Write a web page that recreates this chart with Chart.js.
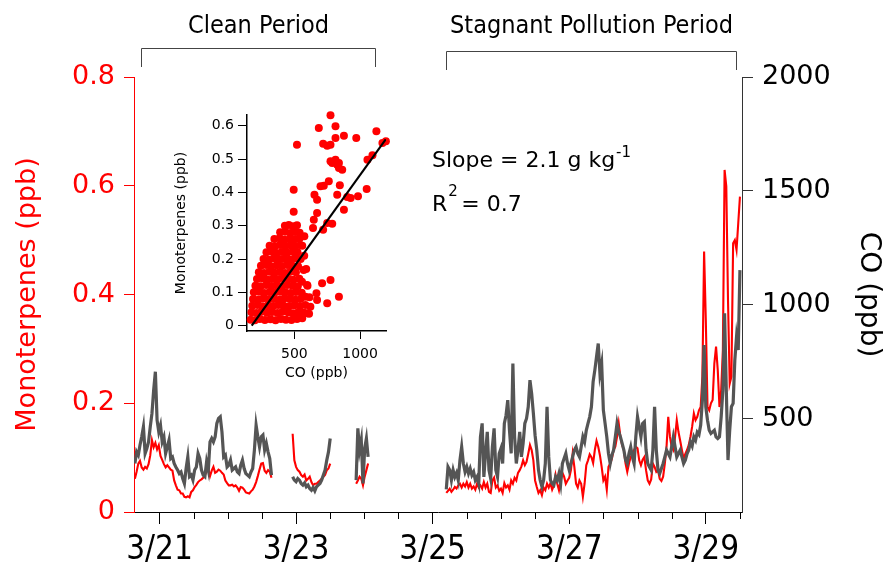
<!DOCTYPE html>
<html>
<head>
<meta charset="utf-8">
<script src="https://cdn.jsdelivr.net/npm/chart.js@4.4.1/dist/chart.umd.min.js"></script>
<style>
  html, body { margin: 0; padding: 0; background: #fff; }
  #wrap { position: relative; width: 886px; height: 563px; }
  #main { position: absolute; left: 0; top: 0; }
  #inset { position: absolute; left: 160px; top: 100px; }
</style>
</head>
<body>
<div id="wrap">
  <canvas id="main" width="886" height="563"></canvas>
  <canvas id="inset" width="235" height="285"></canvas>
</div>
<script>
// time axis in days of March; every segment is sampled each 0.025 day
const segStart = [20.64, 22.95, 23.88, 25.20];
const STEP = 0.025;

// CO (ppb), right axis
const coCleanA = [303,354,340,384,420,464,347,369,398,464,
  523,625,706,493,442,471,398,420,347,376,
  406,325,332,303,288,274,259,266,237,215,
  281,332,245,252,230,274,288,347,325,274,
  252,245,310,274,398,413,398,420,479,501,
  508,442,332,340,288,296,318,274,281,288,
  266,259,296,318,281,259,252,245,266,281,
  362,471,420,376,420,428,362,391,354,325,
  252];
const coCleanB = [245,230,223,237,230,215,208,218,201,208,193,186,198,183,201,208,215,230,252,274,318,354,413];
const coCleanC = [230,457,362,406,215,369,413,332];
const coStagnant = [189,288,274,230,274,244,262,230,318,376,
  303,266,288,259,281,252,266,230,244,215,
  420,479,244,347,442,274,237,376,457,274,
  244,347,369,303,479,515,581,449,347,742,
  420,303,362,442,332,391,479,501,552,669,
  610,523,427,362,274,230,201,230,303,552,
  332,230,215,208,244,230,259,215,303,325,
  347,303,274,303,332,362,376,347,332,376,
  420,398,449,479,508,552,662,713,772,830,
  698,742,537,479,420,347,303,340,362,420,
  479,442,420,391,362,318,303,347,376,332,
  303,420,508,464,420,479,486,362,303,288,
  274,362,552,362,274,259,281,303,332,362,
  347,332,376,420,376,332,347,362,332,303,
  318,345,362,398,380,420,405,440,430,472,
  581,823,552,493,449,435,442,449,420,413,
  420,508,625,962,625,318,449,552,567,757,
  859,801,1152];

// Monoterpenes (ppb), left axis
const monoCleanA = [0.061,0.074,0.089,0.094,0.082,0.078,0.083,0.080,0.088,0.104,
  0.132,0.119,0.127,0.115,0.123,0.103,0.096,0.088,0.082,0.086,
  0.082,0.078,0.076,0.058,0.049,0.041,0.040,0.034,0.034,0.028,
  0.027,0.029,0.027,0.037,0.040,0.046,0.050,0.055,0.058,0.060,
  0.063,0.068,0.074,0.080,0.066,0.076,0.083,0.072,0.074,0.078,
  0.076,0.072,0.069,0.058,0.053,0.049,0.049,0.050,0.047,0.049,
  0.045,0.039,0.046,0.045,0.041,0.036,0.035,0.034,0.038,0.041,
  0.047,0.055,0.066,0.078,0.089,0.090,0.076,0.072,0.077,0.074,
  0.063];
const monoCleanB = [0.144,0.095,0.083,0.077,0.074,0.068,0.065,0.069,0.058,0.061,0.065,0.055,0.049,0.052,0.052,0.055,0.058,0.061,0.065,0.068,0.077,0.080,0.089];
const monoCleanC = [0.052,0.058,0.065,0.061,0.049,0.065,0.077,0.089];
const monoStagnant = [0.035,0.039,0.043,0.037,0.041,0.046,0.043,0.049,0.052,0.045,
  0.052,0.047,0.055,0.045,0.052,0.043,0.047,0.041,0.052,0.045,
  0.049,0.043,0.055,0.045,0.052,0.037,0.035,0.058,0.063,0.045,
  0.049,0.039,0.043,0.035,0.053,0.045,0.049,0.041,0.058,0.052,
  0.063,0.058,0.072,0.077,0.084,0.095,0.086,0.092,0.107,0.123,
  0.114,0.095,0.058,0.046,0.035,0.040,0.031,0.045,0.040,0.052,
  0.045,0.053,0.041,0.049,0.068,0.052,0.040,0.058,0.072,0.065,
  0.052,0.058,0.063,0.077,0.107,0.083,0.052,0.045,0.058,0.052,
  0.028,0.052,0.086,0.095,0.106,0.101,0.090,0.114,0.131,0.120,
  0.104,0.083,0.058,0.065,0.041,0.083,0.089,0.098,0.114,0.120,
  0.138,0.163,0.138,0.123,0.114,0.089,0.074,0.089,0.101,0.107,
  0.114,0.120,0.117,0.095,0.086,0.096,0.101,0.077,0.058,0.052,
  0.060,0.089,0.083,0.074,0.077,0.061,0.057,0.065,0.089,0.120,
  0.175,0.138,0.120,0.114,0.138,0.169,0.147,0.131,0.114,0.098,
  0.107,0.114,0.123,0.138,0.157,0.181,0.169,0.175,0.187,0.193,
  0.249,0.479,0.353,0.193,0.187,0.200,0.206,0.273,0.304,0.261,
  0.193,0.224,0.298,0.629,0.599,0.390,0.236,0.249,0.494,0.500,
  0.482,0.531,0.580];

const xTickDays = [21,21.5,22,22.5,23,23.5,24,24.5,25,25.5,26,26.5,27,27.5,28,28.5,29,29.5];
const monoTicks = [0,0.2,0.4,0.6,0.8];
const coTicks = [500,1000,1500,2000];

const periods = [
  {label: 'Clean Period', start: 20.73, end: 24.155, top: 48},
  {label: 'Stagnant Pollution Period', start: 25.195, end: 29.44, top: 51}
];

// inset scatter: [CO, monoterpenes]
const insetPoints = [
  [168,0.018],[200,0.016],[238,0.02],[276,0.017],[318,0.019],[357,0.016],[398,0.02],[436,0.018],[478,0.017],[520,0.02],[560,0.022],
  [174,0.04],[212,0.038],[250,0.042],[292,0.039],[330,0.041],[372,0.038],[410,0.042],[452,0.04],[490,0.037],[532,0.041],[572,0.039],[612,0.036],
  [180,0.06],[220,0.062],[258,0.058],[300,0.061],[340,0.059],[378,0.062],[420,0.06],[462,0.058],[500,0.061],[542,0.059],[584,0.062],
  [186,0.08],[226,0.078],[266,0.082],[306,0.079],[344,0.081],[386,0.078],[426,0.082],[466,0.08],[506,0.078],[548,0.081],
  [192,0.1],[232,0.102],[270,0.098],[312,0.101],[350,0.099],[392,0.102],[430,0.1],[472,0.098],[512,0.101],[556,0.099],
  [204,0.12],[244,0.118],[286,0.122],[326,0.119],[364,0.121],[406,0.118],[446,0.122],[486,0.12],[526,0.118],
  [216,0.14],[256,0.142],[296,0.138],[336,0.141],[376,0.139],[416,0.142],[456,0.14],[494,0.138],[538,0.141],
  [230,0.16],[270,0.158],[310,0.162],[350,0.159],[390,0.161],[430,0.158],[470,0.162],[512,0.16],
  [246,0.18],[286,0.182],[326,0.178],[366,0.181],[406,0.179],[446,0.182],[486,0.18],[528,0.178],
  [266,0.2],[306,0.198],[346,0.202],[386,0.199],[426,0.201],[466,0.198],[504,0.202],[548,0.2],
  [288,0.22],[328,0.222],[366,0.218],[406,0.221],[446,0.219],[486,0.222],[524,0.22],
  [312,0.24],[352,0.238],[392,0.242],[432,0.239],[470,0.241],[508,0.238],[546,0.242],
  [348,0.26],[388,0.262],[426,0.258],[466,0.261],[504,0.259],[540,0.262],
  [392,0.28],[430,0.282],[470,0.278],[508,0.281],[540,0.279],
  [428,0.3],[458,0.302],[490,0.298],[520,0.301],
  [560,0.24],[575,0.21],[590,0.17],[600,0.12],[615,0.085],
  [775,0.631],[520,0.543],[686,0.593],[813,0.598],[877,0.57],[813,0.563],[971,0.563],[1124,0.583],[1196,0.553],[1170,0.548],
  [719,0.546],[750,0.54],[775,0.543],[775,0.493],[788,0.488],[813,0.498],[826,0.483],[839,0.473],[864,0.468],[839,0.488],
  [1056,0.498],[1094,0.511],[495,0.408],[653,0.393],[673,0.378],[724,0.42],[762,0.433],[699,0.418],[826,0.393],[846,0.421],
  [902,0.386],[928,0.383],[984,0.388],[1050,0.41],[877,0.348],[673,0.338],[648,0.318],[642,0.293],[719,0.288],[750,0.308],
  [788,0.306],[576,0.268],[495,0.342],
  [711,0.127],[775,0.137],[839,0.087],[750,0.067],[668,0.097],[673,0.077],[571,0.167],[597,0.122],[558,0.132],[520,0.037],
  [597,0.037],[584,0.087],[622,0.057]
];
// fitted line end points [CO, monoterpenes]
const fitLine = [[176,0],[1195,0.559]];

const condensed = "'DejaVu Sans Condensed', 'Liberation Sans Narrow', 'DejaVu Sans', sans-serif";
const sans = "'DejaVu Sans', 'Liberation Sans', sans-serif";

function buildSeries(segs) {
  const pts = [];
  segs.forEach((vals, s) => {
    if (s > 0) pts.push({x: segStart[s] - STEP / 2, y: null});
    vals.forEach((v, i) => pts.push({x: segStart[s] + i * STEP, y: v}));
  });
  return pts;
}

const annotations = {
  id: 'annotations',
  afterDraw(chart) {
    const {ctx} = chart;
    const x = chart.scales.x;
    ctx.save();
    // half-day minor ticks
    ctx.strokeStyle = '#000';
    ctx.lineWidth = 1;
    xTickDays.forEach(d => {
      if (d % 2 === 1) return;
      const px = Math.round(x.getPixelForValue(d)) + 0.5;
      ctx.beginPath();
      ctx.moveTo(px, x.top);
      ctx.lineTo(px, x.top + 7);
      ctx.stroke();
    });
    // period brackets
    ctx.strokeStyle = '#444';
    ctx.fillStyle = '#000';
    ctx.font = '25px ' + condensed;
    ctx.textAlign = 'center';
    ctx.textBaseline = 'alphabetic';
    periods.forEach(p => {
      const x0 = Math.round(x.getPixelForValue(p.start)) + 0.5;
      const x1 = Math.round(x.getPixelForValue(p.end)) + 0.5;
      ctx.beginPath();
      ctx.moveTo(x0, p.top + 19);
      ctx.lineTo(x0, p.top + 0.5);
      ctx.lineTo(x1, p.top + 0.5);
      ctx.lineTo(x1, p.top + 19);
      ctx.stroke();
      ctx.fillText(p.label, (x0 + x1) / 2, 33);
    });
    // fit statistics
    ctx.textAlign = 'left';
    ctx.font = '22px ' + sans;
    const s1 = 'Slope = 2.1 g kg';
    ctx.fillText(s1, 432, 167);
    const w1 = ctx.measureText(s1).width;
    ctx.fillText('R', 432, 211);
    const wr = ctx.measureText('R').width;
    ctx.fillText('= 0.7', 432 + wr + 14, 211);
    ctx.font = '15px ' + sans;
    ctx.fillText('-1', 432 + w1 + 1, 157);
    ctx.fillText('2', 432 + wr + 1, 196);
    ctx.restore();
  }
};

new Chart(document.getElementById('main'), {
  type: 'line',
  data: {
    datasets: [
      {
        label: 'CO',
        data: buildSeries([coCleanA, coCleanB, coCleanC, coStagnant]),
        yAxisID: 'yR',
        borderColor: '#555555',
        borderWidth: 3.2,
        pointRadius: 0,
        spanGaps: false,
        tension: 0
      },
      {
        label: 'Monoterpenes',
        data: buildSeries([monoCleanA, monoCleanB, monoCleanC, monoStagnant]),
        yAxisID: 'yL',
        borderColor: '#ff0000',
        borderWidth: 2.1,
        pointRadius: 0,
        spanGaps: false,
        tension: 0
      }
    ]
  },
  options: {
    responsive: false,
    animation: false,
    devicePixelRatio: 1,
    layout: {padding: {top: 77, left: 0, right: 0, bottom: 0}},
    plugins: {legend: {display: false}, tooltip: {enabled: false}},
    scales: {
      x: {
        type: 'linear',
        position: 'bottom',
        min: 20.627,
        max: 29.53,
        afterBuildTicks: s => { s.ticks = xTickDays.map(v => ({value: v})); },
        afterFit: s => { s.height = 51; },
        border: {color: '#000', width: 1},
        grid: {
          drawOnChartArea: false,
          tickLength: 12,
          tickColor: c => (c.tick && c.tick.value % 2 === 1) ? '#000' : 'rgba(0,0,0,0)'
        },
        ticks: {
          autoSkip: false,
          maxRotation: 0,
          minRotation: 0,
          padding: 7,
          color: '#000',
          font: {family: condensed, size: 33},
          callback: v => (v % 2 === 1 ? '3/' + v : '')
        }
      },
      yL: {
        type: 'linear',
        position: 'left',
        min: 0,
        max: 0.8,
        afterBuildTicks: s => { s.ticks = monoTicks.map(v => ({value: v})); },
        afterFit: s => { s.width = 134; },
        border: {color: '#ff0000', width: 1},
        grid: {drawOnChartArea: false, tickLength: 10, tickColor: '#ff0000'},
        ticks: {
          padding: 9,
          color: '#ff0000',
          font: {family: sans, size: 27},
          callback: v => (v === 0 ? '0' : v.toFixed(1))
        },
        title: {
          display: true,
          text: 'Monoterpenes (ppb)',
          color: '#ff0000',
          font: {family: sans, size: 27},
          padding: {top: 12, bottom: 0}
        }
      },
      yR: {
        type: 'linear',
        position: 'right',
        min: 90,
        max: 2000,
        afterBuildTicks: s => { s.ticks = coTicks.map(v => ({value: v})); },
        afterFit: s => { s.width = 144; },
        border: {color: '#333', width: 1},
        grid: {drawOnChartArea: false, tickLength: 11, tickColor: '#333'},
        ticks: {
          padding: 9,
          color: '#000',
          font: {family: sans, size: 27},
          callback: v => String(v)
        },
        title: {
          display: true,
          text: 'CO (ppb)',
          color: '#000',
          font: {family: sans, size: 28},
          padding: {top: 1, bottom: 0}
        }
      }
    }
  },
  plugins: [annotations]
});

new Chart(document.getElementById('inset'), {
  type: 'scatter',
  data: {
    datasets: [
      {
        type: 'line',
        data: fitLine.map(([c, m]) => ({x: c, y: m})),
        borderColor: '#000',
        borderWidth: 2.2,
        pointRadius: 0
      },
      {
        data: insetPoints.map(([c, m]) => ({x: c, y: m})),
        backgroundColor: '#ff0000',
        borderWidth: 0,
        pointRadius: 4,
        clip: false
      }
    ]
  },
  options: {
    responsive: false,
    animation: false,
    devicePixelRatio: 1,
    layout: {padding: {top: 15, right: 9, left: 0, bottom: 0}},
    plugins: {legend: {display: false}, tooltip: {enabled: false}},
    scales: {
      x: {
        type: 'linear',
        min: 140,
        max: 1197,
        afterBuildTicks: s => { s.ticks = [500, 1000].map(v => ({value: v})); },
        afterFit: s => { s.height = 54; },
        border: {color: '#000', width: 1.5},
        grid: {drawOnChartArea: false, tickLength: 8, tickColor: '#000'},
        ticks: {padding: 7, color: '#000', font: {family: sans, size: 14}, maxRotation: 0, callback: v => String(v)},
        title: {display: true, text: 'CO (ppb)', color: '#000', font: {family: sans, size: 14}, padding: {top: 0, bottom: 3}}
      },
      y: {
        type: 'linear',
        min: -0.016,
        max: 0.632,
        afterBuildTicks: s => { s.ticks = [0, 0.1, 0.2, 0.3, 0.4, 0.5, 0.6].map(v => ({value: v})); },
        afterFit: s => { s.width = 87; },
        border: {color: '#000', width: 1.5},
        grid: {drawOnChartArea: false, tickLength: 9, tickColor: '#000'},
        ticks: {padding: 4, color: '#000', font: {family: sans, size: 14}, callback: v => (v === 0 ? '0' : v.toFixed(1))},
        title: {display: true, text: 'Monoterpenes (ppb)', color: '#000', font: {family: sans, size: 14}, padding: {top: 13, bottom: 0}}
      }
    }
  }
});
</script>
</body>
</html>
